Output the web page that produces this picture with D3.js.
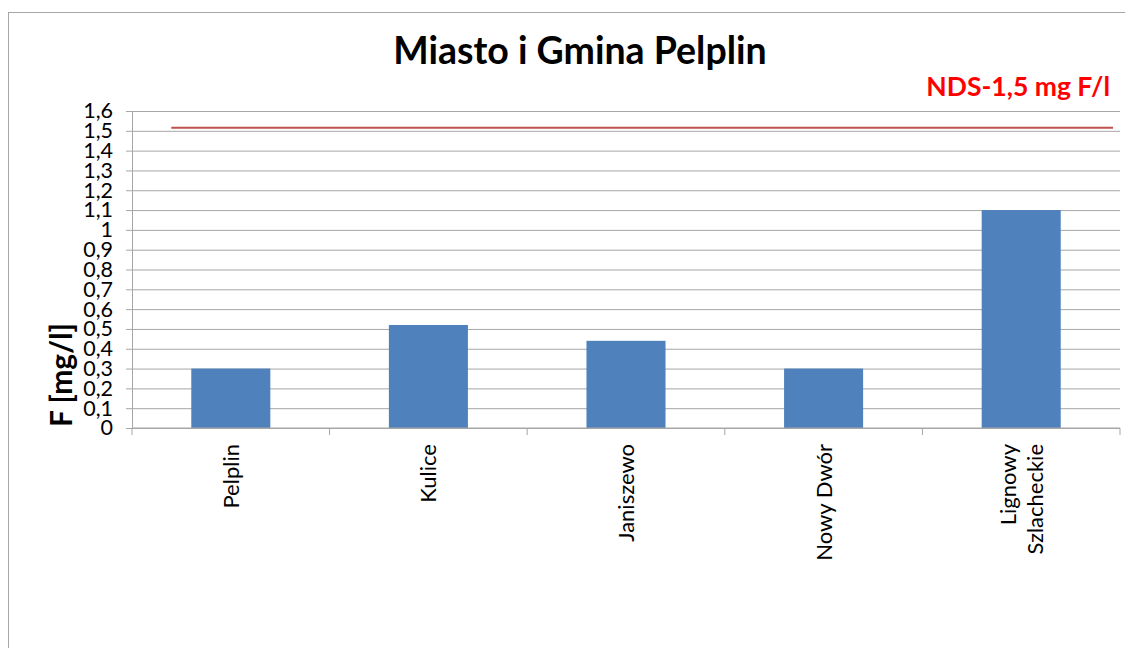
<!DOCTYPE html>
<html>
<head>
<meta charset="utf-8">
<script src="https://cdn.jsdelivr.net/npm/d3@7"></script>
<style>
  body { margin: 0; background: #fff; font-family: Lato, "Open Sans", sans-serif; }
  svg text { font-family: Lato, "Open Sans", sans-serif; }
</style>
</head>
<body>
<div id="chart"></div>
<script>
// data
var categories = [["Pelplin"], ["Kulice"], ["Janiszewo"], ["Nowy Dwór"], ["Lignowy", "Szlacheckie"]]
var values = [0.3, 0.52, 0.44, 0.3, 1.1]
var ndsValue = 1.515
var yTicks = [0, 0.1, 0.2, 0.3, 0.4, 0.5, 0.6, 0.7, 0.8, 0.9, 1, 1.1, 1.2, 1.3, 1.4, 1.5, 1.6]

var width = 1125, height = 648
var margin = {top: 111, right: 5, bottom: 220, left: 132}

var svg = d3.select("#chart")
  .append("svg")
  .attr("width", width)
  .attr("height", height)

// frame
svg.append("rect")
  .attr("x", 8.5).attr("y", 12.5)
  .attr("width", 1130).attr("height", 650)
  .attr("fill", "none")
  .attr("stroke", "#a6a6a6")

var keys = categories.map(c => c.join(" "))

var xScale = d3.scaleBand()
  .domain(keys)
  .range([margin.left, width - margin.right])
  .paddingInner(0.6)
  .paddingOuter(0.3)

var xEdge = d3.scaleLinear()
  .domain([0, keys.length])
  .range([margin.left, width - margin.right])

var yScale = d3.scaleLinear()
  .domain([0, 1.6])
  .range([height - margin.bottom, margin.top])

// grid
var yGrid = d3.axisLeft(yScale)
  .tickValues(yTicks)
  .tickSize(-(width - margin.right - margin.left))
  .tickFormat("")

svg.append("g")
  .attr("transform", `translate(${margin.left},0)`)
  .attr("class", "grid")
  .call(yGrid)
  .call(g => g.select(".domain").remove())
  .selectAll("line")
  .style("stroke", "#a6a6a6")

// Y axis
var yAxis = d3.axisLeft(yScale)
  .tickValues(yTicks)
  .tickSize(6)
  .tickPadding(13)
  .tickFormat(d => String(d).replace(".", ","))

svg.append("g")
  .attr("transform", `translate(${margin.left},0)`)
  .attr("class", "y-axis")
  .call(yAxis)
  .call(g => g.selectAll("line, path").style("stroke", "#a6a6a6"))
  .selectAll("text")
  .style("font-size", "21.5px")
  .style("fill", "#000")

// bars
svg.append("g")
  .selectAll("rect")
  .data(values)
  .enter()
  .append("rect")
  .attr("x", (d, i) => xScale(keys[i]))
  .attr("y", d => yScale(d))
  .attr("width", xScale.bandwidth())
  .attr("height", d => yScale(0) - yScale(d))
  .attr("fill", "#4f81bd")

// X axis line and ticks
var xAxisG = svg.append("g").attr("class", "x-axis")
xAxisG.append("line")
  .attr("x1", margin.left).attr("x2", width - margin.right)
  .attr("y1", yScale(0)).attr("y2", yScale(0))
  .style("stroke", "#a6a6a6")
xAxisG.selectAll(".tk")
  .data(d3.range(keys.length + 1))
  .enter()
  .append("line")
  .attr("x1", d => xEdge(d)).attr("x2", d => xEdge(d))
  .attr("y1", yScale(0)).attr("y2", yScale(0) + 7)
  .style("stroke", "#a6a6a6")

// X labels rotated
categories.forEach(function(lines, i) {
  var cx = xScale(keys[i]) + xScale.bandwidth() / 2
  var t = svg.append("text")
    .attr("transform", `translate(${cx},${yScale(0) + 16}) rotate(-90)`)
    .attr("text-anchor", "end")
    .style("font-size", "22px")
    .style("fill", "#000")
  var n = lines.length
  lines.forEach(function(l, j) {
    t.append("tspan")
      .attr("x", 0)
      .attr("y", (j - (n - 1) / 2) * 27 + 8)
      .text(l)
  })
})

// NDS line
svg.append("line")
  .attr("x1", xScale(keys[0]) - 20)
  .attr("x2", width - margin.right - 7)
  .attr("y1", yScale(ndsValue))
  .attr("y2", yScale(ndsValue))
  .style("stroke", "#c0504d")
  .style("stroke-width", 2)

// title
svg.append("text")
  .attr("x", 580).attr("y", 64)
  .attr("text-anchor", "middle")
  .style("font-size", "37.5px")
  .style("font-weight", "bold")
  .text("Miasto i Gmina Pelplin")

svg.append("text")
  .attr("x", 1110).attr("y", 96)
  .attr("text-anchor", "end")
  .style("font-size", "26.5px")
  .style("font-weight", "bold")
  .style("fill", "#ff0000")
  .text("NDS-1,5 mg F/l")

// y label
svg.append("text")
  .attr("transform", "translate(72,375) rotate(-90)")
  .attr("text-anchor", "middle")
  .style("font-size", "30px")
  .style("font-weight", "bold")
  .text("F [mg/l]")
</script>
</body>
</html>
